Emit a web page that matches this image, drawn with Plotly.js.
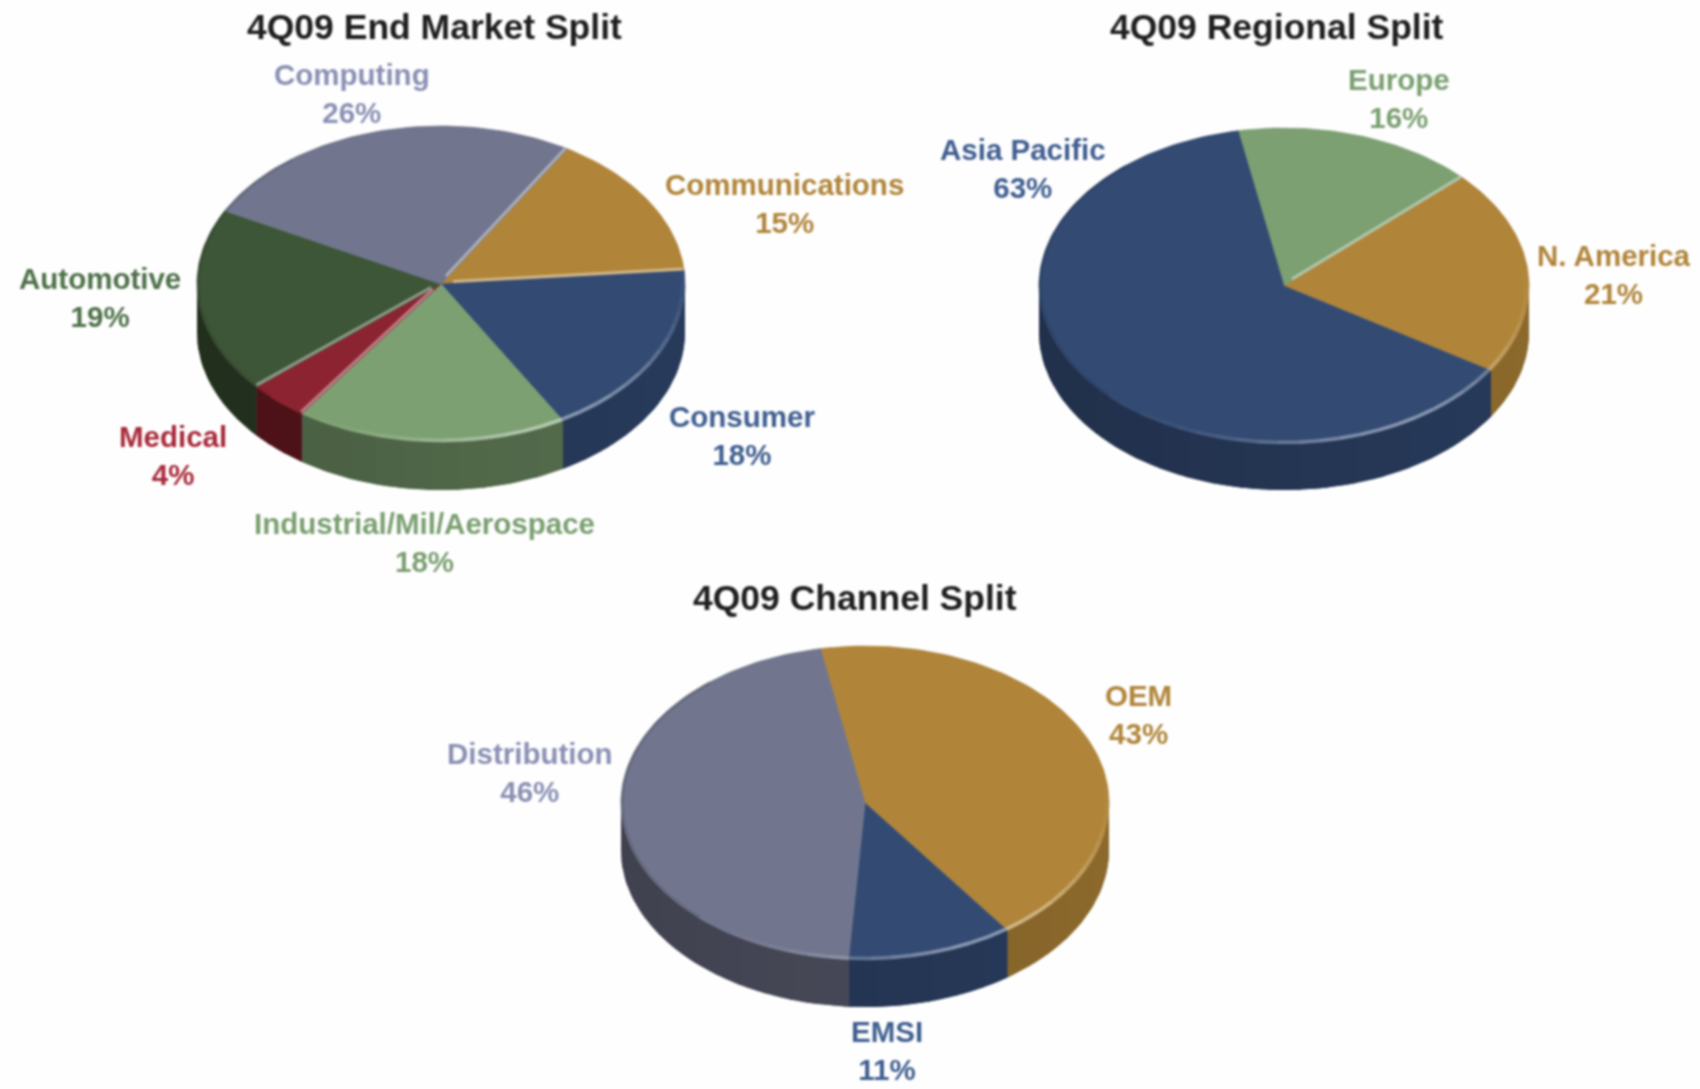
<!DOCTYPE html>
<html>
<head>
<meta charset="utf-8">
<script src="https://cdn.plot.ly/plotly-3.0.1.min.js"></script>
<style>
html,body{margin:0;padding:0;background:#fefefe;}
#chart{width:1700px;height:1089px;filter:blur(0.8px);}
</style>
</head>
<body>
<div id="chart"></div>
<script>
// ---- Data ----
var marketCategories = ["Communications","Consumer","Industrial/Mil/Aerospace","Medical","Automotive","Computing"];
var marketValues     = [15,18,18,4,19,26];
var regionCategories = ["Europe","N. America","Asia Pacific"];
var regionValues     = [16,21,63];
var channelCategories= ["OEM","EMSI","Distribution"];
var channelValues    = [43,11,46];

var chartTitles = ["4Q09 End Market Split","4Q09 Regional Split","4Q09 Channel Split"];

// ---- Styles and layout, keyed by category ----
var topColor = {gold:"#b0853a",blue:"#334b73",gray:"#71768e",dkgreen:"#3e5638",ltgreen:"#7ca072",red:"#8c2330"};
var wallColor= {gold:"#86652a",blue:"#263857",gray:"#4a4c5c",dkgreen:"#273622",ltgreen:"#536b4b",red:"#56141b"};
var textColor= {gold:"#b0853a",blue:"#3f5e90",gray:"#8a90b4",dkgreen:"#4e7149",ltgreen:"#7a9f70",red:"#a82a3a"};

var marketSwatch  = ["gold","blue","ltgreen","red","dkgreen","gray"];
var regionSwatch  = ["ltgreen","gold","blue"];
var channelSwatch = ["gold","blue","gray"];

var marketLabelAt  = [[784,203],[742,435],[424,542],[173,455],[100,297],[352,93]];
var regionLabelAt  = [[1399,98],[1614,274],[1023,168]];
var channelLabelAt = [[1138,714],[887,1050],[530,772]];

var pies = [
 {cats:marketCategories, vals:marketValues, sw:marketSwatch, at:marketLabelAt, cx:441, cy:284, rx:244, ry:158, depth:48, start:31.2, titleAt:[434,27]},
 {cats:regionCategories, vals:regionValues, sw:regionSwatch, at:regionLabelAt, cx:1284,cy:286, rx:245, ry:158, depth:46, start:349.2,titleAt:[1277,27]},
 {cats:channelCategories,vals:channelValues,sw:channelSwatch,at:channelLabelAt,cx:865, cy:803, rx:244, ry:157, depth:47, start:349.5,titleAt:[855,598]}
];

function pt(p,deg,r,dy){
  var t=deg*Math.PI/180, k=(r===undefined?1:r);
  return [p.cx+p.rx*k*Math.sin(t), p.cy-p.ry*k*Math.cos(t)+(dy||0)];
}
function rgb(h){return [parseInt(h.substr(1,2),16),parseInt(h.substr(3,2),16),parseInt(h.substr(5,2),16)];}
function shade(h,f){var c=rgb(h);return "rgb("+c.map(function(v){return Math.min(255,Math.round(v*f));}).join(",")+")";}
function mix(h,a){var c=rgb(h);return "rgba("+c.map(function(v){return Math.round(v+(255-v)*0.5);}).join(",")+","+a.toFixed(3)+")";}

var traces=[], annotations=[];
function poly(name,pts,color,lw){
  traces.push({type:"scatter",mode:"lines",name:name,x:pts.map(function(q){return q[0];}),y:pts.map(function(q){return q[1];}),
    fill:"toself",fillcolor:color,line:{color:color,width:lw},hoverinfo:"name",showlegend:false});
}
function stroke(name,pts,color,w){
  traces.push({type:"scatter",mode:"lines",name:name,x:pts.map(function(q){return q[0];}),y:pts.map(function(q){return q[1];}),
    line:{color:color,width:w},hoverinfo:"skip",showlegend:false});
}
function wallBand(p,d0,d1){
  var pts=[], n=Math.max(2,Math.ceil((d1-d0)/1.5)), m;
  for(m=0;m<=n;m++) pts.push(pt(p,d0+(d1-d0)*m/n));
  for(m=n;m>=0;m--) pts.push(pt(p,d0+(d1-d0)*m/n,1,p.depth));
  return pts;
}

pies.forEach(function(p,pi){
  var total=p.vals.reduce(function(a,b){return a+b;},0), a=p.start, spans=[];
  p.vals.forEach(function(v){spans.push([a,a+v/total*360]);a+=v/total*360;});

  // side wall, only where the rim faces the viewer
  spans.forEach(function(s,i){
    [0,360].forEach(function(off){
      var lo=Math.max(s[0],90+off), hi=Math.min(s[1],270+off);
      if(hi<=lo) return;
      var col=wallColor[p.sw[i]];
      poly(p.cats[i],wallBand(p,lo,hi),shade(col,1),0);
      var n=Math.ceil((hi-lo)/7);
      for(var j=0;j<n;j++){
        var d0=lo+(hi-lo)*j/n, d1=Math.min(hi,lo+(hi-lo)*(j+1)/n+1), mid=(d0+d1)/2;
        poly(p.cats[i],wallBand(p,d0,d1),shade(col,0.95+0.09*Math.sin(mid*Math.PI/180)),0);
      }
    });
  });

  // top faces
  spans.forEach(function(s,i){
    var pts=[[p.cx,p.cy]], n=Math.ceil((s[1]-s[0])/1.5);
    for(var j=0;j<=n;j++) pts.push(pt(p,s[0]+(s[1]-s[0])*j/n));
    pts.push([p.cx,p.cy]);
    poly(p.cats[i],pts,topColor[p.sw[i]],0.7);
  });

  // bevel: lit radial edges and lit front rim
  spans.forEach(function(s,i){
    var hex=topColor[p.sw[i]], midS=pt(p,(s[0]+s[1])/2,0.5);
    [[s[0],s[0]-90],[s[1],s[1]+90]].forEach(function(e){
      var nrm=((e[1]%360)+360)%360;
      if(nrm<100||nrm>180) return;
      var R=pt(p,e[0],0.995), ux=R[0]-p.cx, uy=R[1]-p.cy, L=Math.sqrt(ux*ux+uy*uy);
      var nx=-uy/L, ny=ux/L;
      if((midS[0]-p.cx)*nx+(midS[1]-p.cy)*ny<0){nx=-nx;ny=-ny;}
      var off=1.8;
      stroke(p.cats[i]+" edge",[[p.cx+nx*off+ux*0.05,p.cy+ny*off+uy*0.05],[R[0]+nx*off,R[1]+ny*off]],mix(hex,0.8),3);
    });
    var stepN=Math.ceil((s[1]-s[0])/5);
    for(var j=0;j<stepN;j++){
      var d0=s[0]+(s[1]-s[0])*j/stepN, d1=s[0]+(s[1]-s[0])*(j+1)/stepN, mid=(d0+d1)/2;
      var c=Math.cos((mid-150)*Math.PI/180);
      var nm=((mid%360)+360)%360;
      if(c>0.4){
        stroke(p.cats[i]+" rim",[pt(p,d0,0.99),pt(p,mid,0.99),pt(p,d1,0.99)],mix(hex,0.85*c*c*c*c),3.5);
      } else if(nm>225&&nm<320){
        stroke(p.cats[i]+" rim",[pt(p,d0,0.996),pt(p,mid,0.996),pt(p,d1,0.996)],"rgba(0,0,0,0.10)",3.5);
      }
    }
  });

  // labels
  p.cats.forEach(function(c,i){
    annotations.push({xref:"x",yref:"y",x:p.at[i][0],y:p.at[i][1],showarrow:false,xanchor:"center",yanchor:"middle",
      text:"<b>"+c+"<br>"+p.vals[i]+"%</b>",align:"center",
      font:{family:"Liberation Sans",size:29.5,color:textColor[p.sw[i]]}});
  });
  annotations.push({xref:"x",yref:"y",x:p.titleAt[0],y:p.titleAt[1],showarrow:false,xanchor:"center",yanchor:"middle",
    text:"<b>"+chartTitles[pi]+"</b>",font:{family:"Liberation Sans",size:35.5,color:"#1f1f21"}});
});

Plotly.newPlot("chart",traces,{
  width:1700,height:1089,margin:{l:0,r:0,t:0,b:0},
  paper_bgcolor:"#fefefe",plot_bgcolor:"#fefefe",showlegend:false,
  xaxis:{range:[0,1700],visible:false,fixedrange:true},
  yaxis:{range:[1089,0],visible:false,fixedrange:true},
  annotations:annotations,hovermode:"closest"
},{displayModeBar:false});
</script>
</body>
</html>
